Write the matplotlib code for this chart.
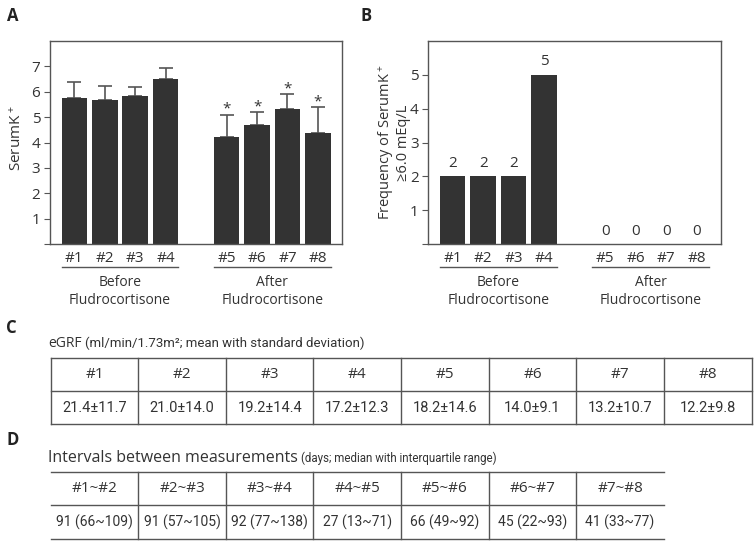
import matplotlib
matplotlib.use('Agg')
import matplotlib.pyplot as plt

# 数据
groups = ['#1', '#2', '#3', '#4', '#5', '#6', '#7', '#8']
pos = [0, 1, 2, 3, 5, 6, 7, 8]
serum_k = [5.74, 5.67, 5.84, 6.48, 4.22, 4.69, 5.32, 4.38]
serum_k_sd = [0.64, 0.54, 0.35, 0.46, 0.88, 0.50, 0.58, 1.01]
signif = ['', '', '', '', '*', '*', '*', '*']
freq = [2, 2, 2, 5, 0, 0, 0, 0]
group_names = ['Before\nFludrocortisone', 'After\nFludrocortisone']
egfr = ['21.4±11.7', '21.0±14.0', '19.2±14.4', '17.2±12.3',
        '18.2±14.6', '14.0±9.1', '13.2±10.7', '12.2±9.8']
interval_names = ['#1~#2', '#2~#3', '#3~#4', '#4~#5', '#5~#6', '#6~#7', '#7~#8']
intervals = ['91 (66~109)', '91 (57~105)', '92 (77~138)', '27 (13~71)',
             '66 (49~92)', '45 (22~93)', '41 (33~77)']

# 字体
narrow = ['Roboto', 'DejaVu Sans']
plt.rcParams['font.family'] = ['Open Sans', 'DejaVu Sans']
plt.rcParams['mathtext.fontset'] = 'custom'
plt.rcParams['mathtext.rm'] = 'Open Sans'
plt.rcParams['mathtext.it'] = 'Open Sans'
txt = '#333333'
edge = '#555555'
bar_c = '#333333'

fig = plt.figure(figsize=(7.55, 5.47), dpi=100)


def style_ax(ax, ymax):
    for s in ax.spines.values():
        s.set_color(edge)
        s.set_linewidth(1.0)
    ax.set_xlim(-0.8, 8.8)
    ax.set_ylim(0, ymax)
    ax.set_yticks(range(0, ymax), [''] + [str(i) for i in range(1, ymax)])
    ax.tick_params(axis='y', direction='out', length=4, width=0.8, color=edge,
                   labelsize=11, labelcolor=txt, pad=3)
    ax.set_xticks(pos, groups)
    ax.tick_params(axis='x', length=0, labelsize=11, labelcolor=txt, pad=5)
    tr = ax.get_xaxis_transform()
    for k, name in enumerate(group_names):
        p = pos[k * 4:(k + 1) * 4]
        ax.plot([p[0] - 0.42, p[-1] + 0.42], [-0.113, -0.113], color=edge, lw=1.0,
                transform=tr, clip_on=False)
        ax.text((p[0] + p[-1]) / 2, -0.15, name, transform=tr, ha='center', va='top',
                fontsize=10, color=txt, linespacing=1.25)


# A
axA = fig.add_axes([50 / 755, 1 - 244.3 / 547, 292.3 / 755, 203.6 / 547])
axA.errorbar(pos, serum_k, yerr=[[0] * 8, serum_k_sd], fmt='none', ecolor=edge,
             elinewidth=1.2, capsize=4.8, capthick=1.2, zorder=1)
axA.bar(pos, serum_k, width=0.84, color=bar_c, zorder=2)
for x, m, s, t in zip(pos, serum_k, serum_k_sd, signif):
    if t:
        axA.annotate(t, (x, m + s), xytext=(0, -1.5), textcoords='offset points',
                     ha='center', va='bottom', fontsize=11, color=txt)
style_ax(axA, 8)
axA.set_ylabel('SerumK$^+$', fontsize=11, color=txt)
axA.yaxis.set_label_coords(-0.085, 0.52)

# B
axB = fig.add_axes([428.3 / 755, 1 - 244.3 / 547, 292.7 / 755, 203.6 / 547])
axB.bar(pos, freq, width=0.84, color=bar_c)
for x, v in zip(pos, freq):
    axB.annotate(str(v), (x, v), xytext=(0, 4), textcoords='offset points',
                 ha='center', va='bottom', fontsize=11, color=txt)
style_ax(axB, 6)
axB.set_ylabel('Frequency of SerumK$^+$\n≥6.0 mEq/L', fontsize=10.5, color=txt,
               linespacing=1.05)
axB.yaxis.set_label_coords(-0.058, 0.5)

# 表格 C, D
tab = fig.add_axes([0, 0, 1, 1], zorder=-1)
tab.set_xlim(0, 755)
tab.set_ylim(547, 0)
tab.axis('off')

for lab, x, y in [('A', 7, 16), ('B', 361, 16), ('C', 6, 328), ('D', 6, 440)]:
    tab.text(x, y, lab, fontsize=12, fontweight='bold', color='#222222', va='center')

cw = 87.6
x0 = 50.7

# C
t1 = tab.text(48, 347, 'eGRF', fontsize=10, color=txt, va='baseline')
tab.annotate('(ml/min/1.73m²; mean with standard deviation)', xy=(1, 347),
             xycoords=(t1, 'data'), xytext=(2.5, 0), textcoords='offset points',
             fontsize=9.5, color=txt, va='baseline', family=narrow)
rows = [358.3, 391, 424]
for y in rows:
    tab.plot([x0, x0 + 8 * cw], [y, y], color=edge, lw=1.0)
for i in range(9):
    tab.plot([x0 + i * cw] * 2, [rows[0], rows[-1]], color=edge, lw=1.0)
for i, (g, v) in enumerate(zip(groups, egfr)):
    cx = x0 + (i + 0.5) * cw
    tab.text(cx, (rows[0] + rows[1]) / 2, g, ha='center', va='center', fontsize=11, color=txt)
    tab.text(cx, (rows[1] + rows[2]) / 2, v, ha='center', va='center', fontsize=10.5,
             color=txt, family=narrow)

# D
t2 = tab.text(48, 462, 'Intervals between measurements', fontsize=11.5, color=txt, va='baseline')
tab.annotate('(days; median with interquartile range)', xy=(1, 462),
             xycoords=(t2, 'data'), xytext=(2.5, 0), textcoords='offset points',
             fontsize=8.3, color=txt, va='baseline', family=narrow)
rows = [472.3, 505.3, 539]
for y in rows:
    tab.plot([x0, x0 + 7 * cw], [y, y], color=edge, lw=1.0)
for i in range(1, 7):
    tab.plot([x0 + i * cw] * 2, [rows[0], rows[-1]], color=edge, lw=1.0)
for i, (g, v) in enumerate(zip(interval_names, intervals)):
    cx = x0 + (i + 0.5) * cw
    tab.text(cx, (rows[0] + rows[1]) / 2, g, ha='center', va='center', fontsize=11, color=txt)
    tab.text(cx, (rows[1] + rows[2]) / 2, v, ha='center', va='center', fontsize=10,
             color=txt, family=narrow)

fig.savefig('out.png', dpi=100)
